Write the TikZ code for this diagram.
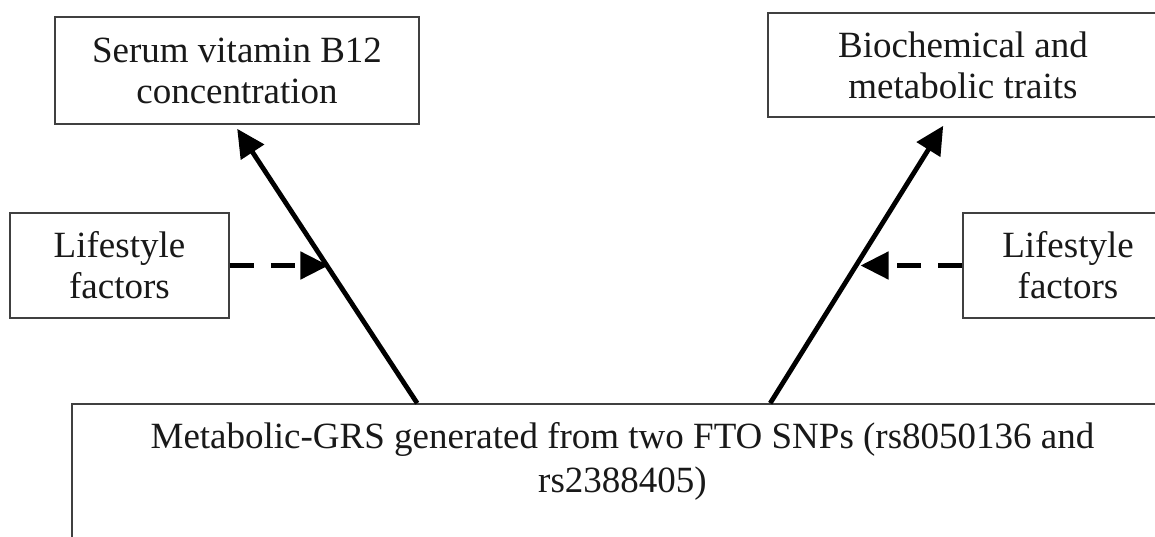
\documentclass[tikz,border=0pt]{standalone}
\usepackage{fontspec}
\setmainfont{Liberation Serif}
\usetikzlibrary{arrows.meta,calc}
\begin{document}
\begin{tikzpicture}[x=0.5pt,y=-0.5pt,
  box/.style={draw=black!75,line width=0.8pt,fill=white,align=center,inner sep=0pt,
    font=\fontsize{18.5}{20.5}\selectfont,text=black!90},
  bigtext/.style={align=center,inner sep=0pt,font=\fontsize{18.5}{22}\selectfont,text=black!90},
  solidarrow/.style={line width=2.4pt,-{Triangle[length=14pt,width=13.5pt]}},
  dasharrow/.style={line width=2.4pt,dash pattern=on 12pt off 8.5pt,-{Triangle[length=14pt,width=13.5pt]}}]
\clip (0,0) rectangle (1155,536);
\fill[white] (0,0) rectangle (1155,536);
\useasboundingbox (0,0) rectangle (1155,536);
% boxes
\node[box,minimum width=182pt,minimum height=53.5pt] (serum) at (237,70.5) {Serum vitamin B12\\concentration};
\node[box,minimum width=195pt,minimum height=52pt] (bio) at (963,65) {Biochemical and\\metabolic traits};
\node[box,minimum width=109.5pt,minimum height=52.5pt] (lifeL) at (119.5,265.5) {Lifestyle\\factors};
\node[box,minimum width=105pt,minimum height=52.5pt] (lifeR) at (1068,265.5) {Lifestyle\\factors};
\node[box,minimum width=550.5pt,minimum height=98pt] (grs) at (622.5,502) {};
\node[bigtext] (grstext) at (622.5,461) {Metabolic-GRS generated from two FTO SNPs (rs8050136 and\\rs2388405)};
% connectors
\coordinate (s1) at ($(grs.north west)+(346,0)$);
\coordinate (s2) at ($(grs.north west)+(699,0)$);
\coordinate (t1) at ($(serum.south west)+(183,4)$);
\coordinate (t2) at ($(bio.south west)+(176,8)$);
\draw[solidarrow] (s1) -- coordinate[pos=0.493] (m1) (t1);
\draw[solidarrow] (s2) -- coordinate[pos=0.4875] (m2) (t2);
\draw[dasharrow] (lifeL.east) -- (lifeL.east -| m1);
\draw[dasharrow] (lifeR.west) -- ($(lifeR.west -| m2)+(6,0)$);
\end{tikzpicture}
\end{document}
